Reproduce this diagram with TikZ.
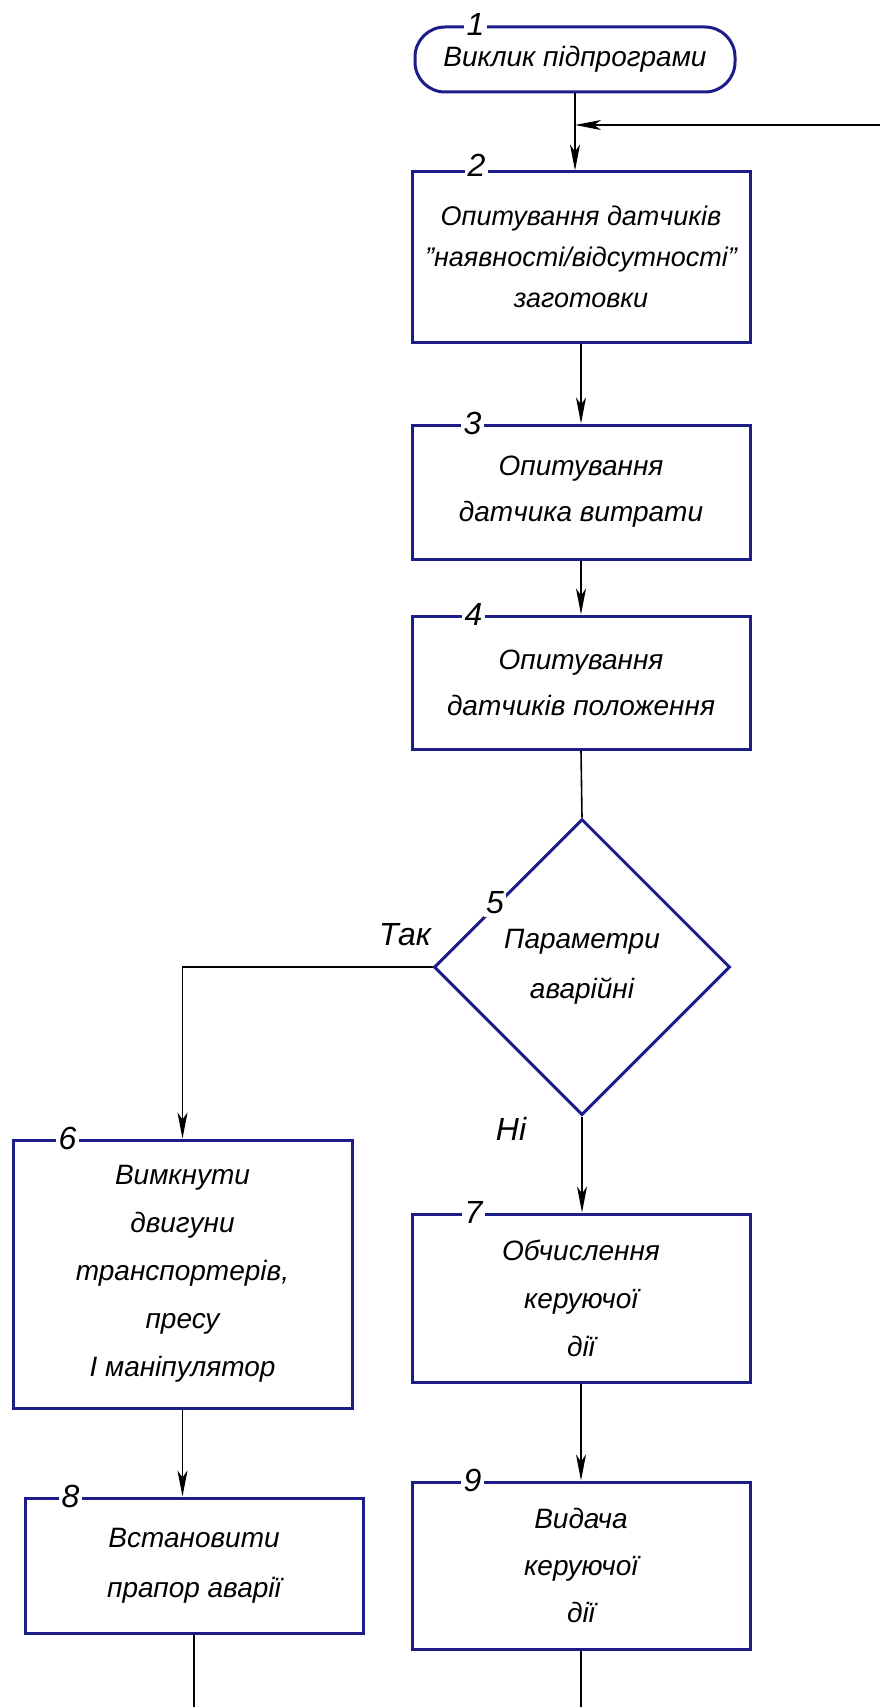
\documentclass[tikz,border=0pt]{standalone}
\usepackage{fontspec}
\setmainfont{Liberation Sans}
\usetikzlibrary{arrows.meta,shapes.geometric}
\definecolor{bnavy}{RGB}{28,28,138}
\newcommand\txtfont[1]{\fontsize{28}{#1}\selectfont\itshape}
\begin{document}
\begin{tikzpicture}[x=1pt,y=-1pt,
  box/.style={draw=bnavy, line width=3pt, minimum width=338pt, inner sep=0pt, align=center},
  num/.style={fill=white, inner sep=2.5pt, font=\fontsize{32}{32}\selectfont\itshape},
  lbl/.style={inner sep=0pt, font=\fontsize{32}{32}\selectfont\itshape},
  conn/.style={line width=1.6pt, black},
  arr/.style={-{Stealth[length=26pt,width=10pt,inset=7pt]}}
]
\fill[white] (0,0) rectangle (880,1707);
\useasboundingbox (0,0) rectangle (880,1707);

% nodes
\node[box, rounded corners=30pt, minimum width=320pt, minimum height=65pt, font=\txtfont{46}] (b1) at (575,59.5) {Виклик підпрограми};
\node[box, minimum height=170pt, font=\fontsize{27}{41}\selectfont\itshape] (b2) at (581,257) {Опитування датчиків\\"наявності/відсутності"\\заготовки};
\node[box, minimum height=134pt, font=\txtfont{46}] (b3) at (581,492) {Опитування\\датчика витрати};
\node[box, minimum height=133pt, font=\txtfont{46}] (b4) at (581,682.5) {Опитування\\датчиків положення};
\node[draw=bnavy, line width=3pt, diamond, aspect=1, minimum width=296pt, minimum height=296pt, inner sep=0pt, align=center, font=\txtfont{50}] (d5) at (582,967) {Параметри\\аварійні};
\node[box, minimum width=339pt, minimum height=268pt, font=\txtfont{48}] (b6) at (182.5,1274) {Вимкнути\\двигуни\\транспортерів,\\пресу\\І маніпулятор};
\node[box, minimum height=168pt, font=\txtfont{48}] (b7) at (581,1298) {Обчислення\\керуючої\\дії};
\node[box, minimum height=135pt, font=\txtfont{50}] (b8) at (194,1565.5) {Встановити\\прапор аварії};
\node[box, minimum height=167pt, font=\txtfont{47}] (b9) at (581,1565.5) {Видача\\керуючої\\дії};

% numbers
\node[num] (n1) at ([xshift=62pt,yshift=1pt]b1.north west) {1};
\node[num] (n2) at ([xshift=66pt,yshift=5pt]b2.north west) {2};
\node[num] (n3) at ([xshift=62pt]b3.north west) {3};
\node[num] (n4) at ([xshift=63pt]b4.north west) {4};
\node[num] (n5) at (495,903) {5};
\node[num] (n6) at ([xshift=56pt]b6.north west) {6};
\node[num] (n7) at ([xshift=63pt]b7.north west) {7};
\node[num] (n8) at ([xshift=47pt]b8.north west) {8};
\node[num] (n9) at ([xshift=62pt]b9.north west) {9};

% labels
\node[lbl] (tak) at (405,935) {Так};
\node[lbl] (ni) at (511,1129) {Ні};

% coordinates
\coordinate (fb) at (880,125);
\coordinate (e8) at (194,1707);
\coordinate (e9) at (582,1707);

% connectors
\draw[conn,arr] (b1.south) -- (b1.south |- b2.north);
\draw[conn,arr] (fb) -- (fb -| b1.south);
\draw[conn,arr] (b2.south) -- (b3.north);
\draw[conn,arr] (b3.south) -- (b4.north);
\draw[conn] (b4.south) -- (d5.north);
\draw[conn,arr] (d5.west) -| (b6.north);
\draw[conn,arr] (d5.south) -- (d5.south |- b7.north);
\draw[conn,arr] (b6.south) -- (b6.south |- b8.north);
\draw[conn,arr] (b7.south) -- (b9.north);
\draw[conn] (b8.south) -- (b8.south |- e8);
\draw[conn] (b9.south) -- (b9.south |- e9);
\end{tikzpicture}
\end{document}
